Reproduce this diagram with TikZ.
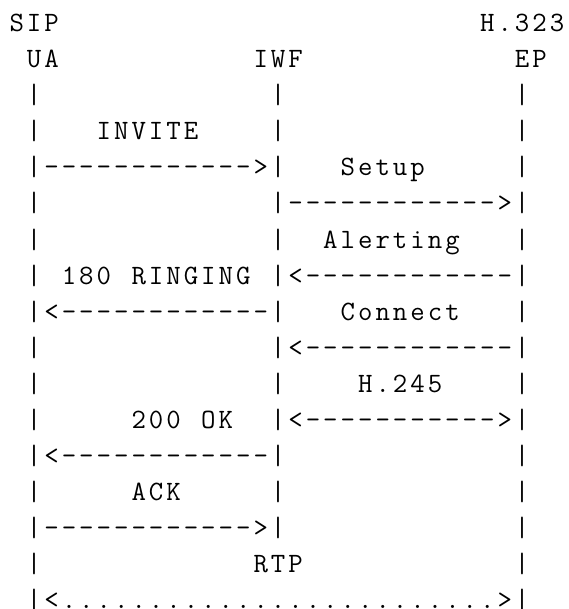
\documentclass[tikz,border=0pt]{standalone}
\ExplSyntaxOn
\dim_new:N \g_colw_dim
\dim_gset:Nn \g_colw_dim {17.43pt}
\str_new:N \l_asc_str
\NewExpandableDocumentCommand{\rep}{mm}{\prg_replicate:nn{#1}{#2}}
\NewDocumentCommand{\asciiline}{m}{
  \str_set:Nx \l_asc_str {#1}
  \str_map_inline:Nn \l_asc_str
    {
      \str_if_eq:nnTF {##1} {_}
        { \hbox_to_wd:nn {\g_colw_dim} {} }
        { \hbox_to_wd:nn {\g_colw_dim} { \hfil ##1 \hfil } }
    }
}
\ExplSyntaxOff
\tikzset{
  asciirow/.style={anchor=base west, inner sep=0pt, outer sep=0pt,
    font=\fontsize{28}{36}\selectfont\ttfamily, text=black}
}
\begin{document}
\begin{tikzpicture}[x=1pt,y=1pt]
\useasboundingbox[fill=white] (0,0) rectangle (568,-609);
\node[asciirow] (r1)  at (8,-32)  {\asciiline{SIP\rep{24}{_}H.323}};
\node[asciirow] (r2)  at (8,-68)  {\asciiline{_UA\rep{11}{_}IWF\rep{12}{_}EP}};
\node[asciirow] (r3)  at (8,-104) {\asciiline{_|\rep{13}{_}|\rep{13}{_}|}};
\node[asciirow] (r4)  at (8,-140) {\asciiline{_|___INVITE____|\rep{13}{_}|}};
\node[asciirow] (r5)  at (8,-176) {\asciiline{_|\rep{12}{-}>|___Setup_____|}};
\node[asciirow] (r6)  at (8,-212) {\asciiline{_|\rep{13}{_}|\rep{12}{-}>|}};
\node[asciirow] (r7)  at (8,-248) {\asciiline{_|\rep{13}{_}|__Alerting___|}};
\node[asciirow] (r8)  at (8,-284) {\asciiline{_|_180_RINGING_|<\rep{12}{-}|}};
\node[asciirow] (r9)  at (8,-320) {\asciiline{_|<\rep{12}{-}|___Connect___|}};
\node[asciirow] (r10) at (8,-356) {\asciiline{_|\rep{13}{_}|<\rep{12}{-}|}};
\node[asciirow] (r11) at (8,-392) {\asciiline{_|\rep{13}{_}|____H.245____|}};
\node[asciirow] (r12) at (8,-428) {\asciiline{_|_____200_OK__|<\rep{11}{-}>|}};
\node[asciirow] (r13) at (8,-464) {\asciiline{_|<\rep{12}{-}|\rep{13}{_}|}};
\node[asciirow] (r14) at (8,-500) {\asciiline{_|_____ACK_____|\rep{13}{_}|}};
\node[asciirow] (r15) at (8,-536) {\asciiline{_|\rep{12}{-}>|\rep{13}{_}|}};
\node[asciirow] (r16) at (8,-572) {\asciiline{_|\rep{12}{_}RTP\rep{12}{_}|}};
\node[asciirow] (r17) at (8,-608) {\asciiline{_|<\rep{25}{.}>|}};
\end{tikzpicture}
\end{document}
